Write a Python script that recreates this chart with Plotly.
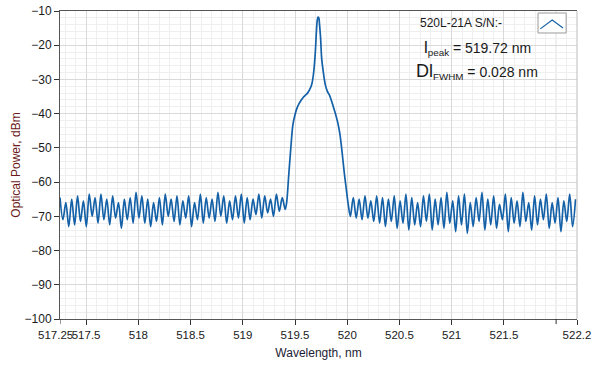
import plotly.graph_objects as go

# ---- data ----
# left noise floor: alternating local maxima/minima, sampled every 0.028 nm from 517.25 nm
left_start = 517.25
left_step = 0.028
left_power = [
    -64.5, -71.0, -66.0, -73.0, -65.0, -72.5, -64.0, -71.5, -65.5, -73.0,
    -63.5, -70.0, -64.5, -72.0, -63.5, -71.0, -65.0, -72.5, -64.0, -70.5,
    -66.0, -73.5, -65.0, -71.0, -64.5, -72.0, -63.0, -70.5, -64.0, -72.0,
    -65.0, -73.0, -66.0, -71.5, -64.5, -72.5, -63.5, -70.0, -65.0, -71.5,
    -64.0, -72.5, -65.5, -70.5, -64.0, -73.0, -66.0, -71.0, -63.5, -72.0,
    -64.5, -70.5, -65.0, -71.5, -63.0, -70.0, -64.0, -72.0, -65.5, -71.0,
    -64.0, -70.5, -63.5, -72.0, -64.5, -71.0, -65.0, -69.5, -63.5, -70.5,
    -64.0, -69.0, -65.0, -70.0, -63.5, -68.5, -64.5, -68.0,
]

# laser line
peak_wl = [519.42, 519.44, 519.46, 519.48, 519.50, 519.52, 519.54, 519.56, 519.58,
           519.60, 519.62, 519.64, 519.66, 519.68, 519.695, 519.705, 519.712, 519.72,
           519.728, 519.735, 519.745, 519.755, 519.77, 519.79, 519.81, 519.83, 519.85,
           519.87, 519.89, 519.91, 519.93, 519.95, 519.97, 519.99, 520.01]
peak_power = [-66.0, -58.0, -50.0, -43.2, -40.3, -38.3, -37.0, -36.0, -35.2,
              -34.6, -34.0, -33.0, -31.5, -27.6, -21.8, -16.0, -13.0, -11.8,
              -12.0, -14.0, -17.9, -23.7, -27.6, -31.5, -33.5, -34.6, -36.3,
              -38.3, -40.3, -42.7, -46.0, -51.0, -56.8, -61.8, -66.6]

# right noise floor, sampled every 0.028 nm from 520.03 nm
right_start = 520.03
right_step = 0.028
right_power = [
    -70.0, -64.5, -70.5, -65.0, -71.0, -64.0, -70.5, -65.5, -71.5, -64.0,
    -72.0, -64.5, -73.0, -65.0, -71.5, -64.0, -73.5, -65.5, -72.0, -63.5,
    -74.0, -64.5, -72.5, -66.0, -73.0, -64.0, -71.5, -63.5, -74.0, -65.0,
    -72.5, -64.5, -73.5, -63.0, -72.0, -65.5, -74.5, -64.0, -72.5, -63.5,
    -75.0, -66.0, -73.0, -64.5, -71.5, -63.0, -74.0, -65.0, -72.5, -64.0,
    -73.5, -66.5, -71.0, -63.5, -74.5, -64.5, -72.0, -65.5, -73.0, -63.0,
    -71.5, -66.0, -74.0, -64.0, -72.5, -65.0, -71.0, -63.5, -73.5, -66.0,
    -72.0, -64.5, -74.5, -65.5, -71.5, -63.5, -73.0, -65.0,
]

x_ticks = [517.5, 518, 518.5, 519, 519.5, 520, 520.5, 521, 521.5, 522.2]
x_ticktext = ["517.5", "518", "518.5", "519", "519.5", "520", "520.5",
              "521", "521.5", "522.2"]
x_start_tick = 517.25          # labelled separately (sits at the axis edge)
x_unlabelled_tick = 522
y_ticks = [-100, -90, -80, -70, -60, -50, -40, -30, -20, -10]

# ---- build series ----
left_wl = [left_start + i * left_step for i in range(len(left_power))]
right_wl = [right_start + i * right_step for i in range(len(right_power))]
wl = left_wl + peak_wl + right_wl
pw = left_power + peak_power + right_power

FONT = "Liberation Sans, Arial, sans-serif"
fig = go.Figure()
fig.add_trace(go.Scatter(x=wl, y=pw, mode="lines",
                         line=dict(color="#1461a8", width=1.7, shape="spline", smoothing=0.9),
                         name="520L-21A S/N:-", showlegend=False))

fig.update_layout(
    width=599, height=370,
    margin=dict(l=60, r=22, t=11, b=51),
    paper_bgcolor="white", plot_bgcolor="white",
    font=dict(family=FONT, size=12, color="#1a1a1a"),
    xaxis=dict(
        range=[517.25, 522.2], tickmode="array", tickvals=x_ticks, ticktext=x_ticktext,
        tickangle=0, tickfont=dict(size=11.5),
        showgrid=True, gridcolor="#d9d9d9", gridwidth=1,
        minor=dict(tick0=517.5, dtick=0.1, showgrid=True, gridcolor="#efefef", ticklen=0),
        ticks="outside", ticklen=5, tickcolor="#333", tickwidth=1,
        showline=True, linecolor="#555", linewidth=1, mirror=True,
        zeroline=False,
        title=dict(text="Wavelength, nm", standoff=8, font=dict(size=12, color="#1c1c34")),
        automargin=False,
    ),
    yaxis=dict(
        range=[-100, -10], tickmode="array", tickvals=y_ticks,
        showgrid=True, gridcolor="#d9d9d9", gridwidth=1,
        minor=dict(dtick=2, showgrid=True, gridcolor="#efefef", ticklen=0),
        ticks="outside", ticklen=5, tickcolor="#333", tickwidth=1,
        showline=True, linecolor="#555", linewidth=1, mirror=False,
        zeroline=False,
        title=dict(text="Optical Power, dBm", standoff=1, font=dict(size=12, color="#6b1a1a")),
        automargin=False,
    ),
)

# first tick (517.25) mark + label, nudged left so it just touches "517.5"
fig.add_shape(type="line", xref="x", yref="paper", x0=x_start_tick, x1=x_start_tick,
              y0=0, y1=-0.0165, line=dict(color="#333", width=1))
fig.add_annotation(xref="x", yref="paper", x=x_start_tick, y=0, text="517.25",
                   showarrow=False, xanchor="center", yanchor="top", yshift=-9, xshift=-5,
                   font=dict(size=11.5, color="#1a1a1a"), borderpad=0)

# grid line + tick mark for the unlabelled 522 tick
fig.add_shape(type="line", xref="x", yref="paper", x0=x_unlabelled_tick, x1=x_unlabelled_tick,
              y0=0, y1=1, line=dict(color="#d9d9d9", width=1), layer="below")
fig.add_shape(type="line", xref="x", yref="paper", x0=x_unlabelled_tick, x1=x_unlabelled_tick,
              y0=0, y1=-0.0165, line=dict(color="#333", width=1))

# right border (lighter)
fig.add_shape(type="line", xref="paper", yref="paper", x0=1, x1=1, y0=0, y1=1,
              line=dict(color="#bdbdbd", width=1))

# legend-like label + icon
fig.add_annotation(xref="paper", yref="paper", x=0.7756, y=0.961, text="520L-21A S/N:-",
                   showarrow=False, font=dict(size=12, color="#1a1a1a"),
                   xanchor="center", yanchor="middle")
fig.add_shape(type="rect", xref="paper", yref="paper", x0=0.9246, x1=0.979, y0=0.9286, y1=0.9935,
              fillcolor="white", line=dict(color="#9a9a9a", width=1))
fig.add_shape(type="path", xref="paper", yref="paper",
              path="M 0.929 0.942 L 0.952 0.971 L 0.973 0.945",
              line=dict(color="#1461a8", width=1.2))

fig.add_annotation(xref="paper", yref="paper", x=0.8066, y=0.88,
                   text="<span style='font-size:17px'>l</span><sub>peak</sub> = 519.72 nm",
                   showarrow=False, font=dict(size=14, color="#1a1a1a"),
                   xanchor="center", yanchor="middle")
fig.add_annotation(xref="paper", yref="paper", x=0.8066, y=0.805,
                   text="<span style='font-size:18px'>Dl</span><sub>FWHM</sub> = 0.028 nm",
                   showarrow=False, font=dict(size=14, color="#1a1a1a"),
                   xanchor="center", yanchor="middle")

fig.write_html("out.html")
